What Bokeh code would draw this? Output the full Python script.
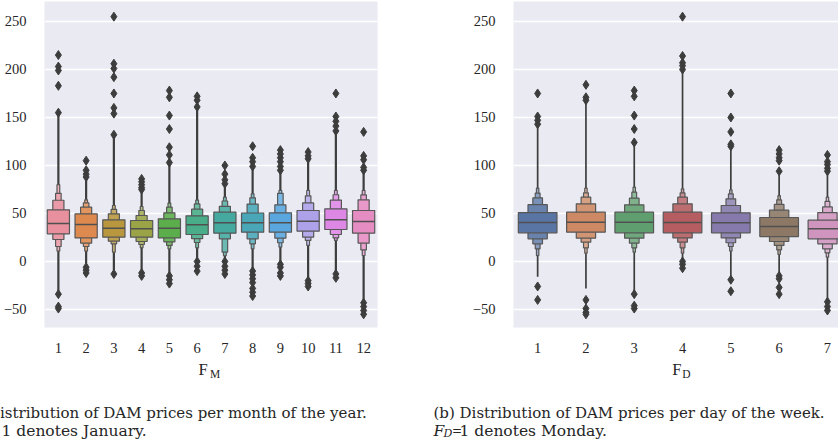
import colorsys

from bokeh.core.properties import value
from bokeh.embed import file_html
from bokeh.layouts import column, row
from bokeh.models import ColumnDataSource, FixedTicker, Range1d
from bokeh.plotting import figure
from bokeh.resources import INLINE

# ---------------- data: DAM prices, letter-value summaries ----------------
month_labels = ["1", "2", "3", "4", "5", "6", "7", "8", "9", "10", "11", "12"]
month_median = [39.6, 38.5, 34.7, 34.0, 34.7, 38.2, 40.3, 40.3, 40.3, 42.0, 43.4, 41.7]
# letter values, innermost (quartiles) first
month_lv_low = [
    [28.8, 22.9, 15.6, 10.8],
    [24.6, 19.1, 15.6, 10.8],
    [25.3, 21.2, 18.4, 9.7],
    [25.3, 20.8, 17.7, 14.2],
    [24.6, 20.5, 16.7, 13.2],
    [28.1, 23.9, 19.8, 14.2],
    [29.5, 23.6, 9.7, 6.0],
    [30.5, 23.6, 18.4, 13.2],
    [30.5, 24.3, 19.5, 15.0],
    [31.6, 25.3, 21.9, 16.7],
    [33.3, 28.1, 24.6, 21.9],
    [29.5, 19.1, 12.1, 6.2],
]
month_lv_high = [
    [53.8, 63.8, 71.0, 80.0],
    [49.6, 56.6, 61.1, 64.2],
    [43.4, 49.6, 54.2, 58.3],
    [42.7, 47.9, 53.1, 57.3],
    [44.4, 50.7, 56.6, 60.8],
    [47.6, 54.5, 60.0, 64.0],
    [51.4, 57.5, 63.0, 67.0],
    [50.5, 59.8, 66.3, 70.5],
    [50.7, 59.0, 71.0, 74.0],
    [53.1, 61.0, 68.4, 74.0],
    [54.9, 64.0, 69.5, 74.0],
    [53.1, 64.2, 69.4, 74.0],
]
month_tail_low = [-31, -2, -9, -9, -12, 2, 3, -7, 0, -17, -10, -40]
month_tail_high = [153, 85, 130, 72, 101, 158, 78, 96, 93, 104, 133, 92]
month_outliers = [
    [215, 203, 199, 183, 155, -34, -47, -49],
    [105, 95, 91, 88, -6, -9, -12],
    [255, 206, 201, 192, 175, 160, 154, 132, -13],
    [86, 83, 80, 77, 75, -12, -15],
    [178, 171, 152, 138, 119, 111, 103, -15, -19, -23],
    [172, 168, 161, 0, -5, -10],
    [100, 91, 85, 81, 0, -5, -9, -13],
    [120, 108, 104, 99, -10, -14, -18, -22, -28, -32, -36],
    [116, 112, 108, 104, 99, 95, -3, -6, -12, -15],
    [114, 110, 107, -20, -23, -26],
    [175, 151, 146, 141, 136, -13, -17],
    [135, 110, 106, 98, 95, -43, -47, -51, -55],
]

day_labels = ["1", "2", "3", "4", "5", "6", "7"]
day_median = [40.6, 41.0, 41.0, 40.6, 40.3, 36.5, 34.0]
day_lv_low = [
    [29.9, 23.6, 18.4, 13.2, 6.2],
    [30.5, 24.3, 20.1, 14.2, 8.7],
    [29.9, 24.3, 19.1, 14.2, 9.7],
    [29.9, 24.6, 20.1, 14.2, 8.7],
    [29.9, 24.6, 19.5, 15.6, 10.8],
    [26.0, 20.8, 16.7, 12.1, 7.3],
    [23.6, 18.4, 13.2, 9.0, 4.5],
]
day_lv_high = [
    [51.0, 59.2, 66.3, 71.3, 76.4],
    [51.4, 60.1, 67.0, 71.5, 76.4],
    [51.4, 59.0, 66.0, 72.2, 77.4],
    [51.4, 60.1, 67.0, 71.5, 75.7],
    [50.7, 58.3, 65.3, 70.5, 74.6],
    [45.8, 53.4, 59.4, 64.2, 68.7],
    [43.0, 51.0, 56.8, 62.6, 67.0],
]
day_tail_low = [-16, -28, -31, 2, -16, -12, -39]
day_tail_high = [140, 166, 121, 198, 118, 91, 91]
day_outliers = [
    [175, 151, 147, 143, -26, -40],
    [184, 171, 168, -40, -49, -53, -55],
    [178, 172, 152, 138, 124, -34, -46, -49],
    [255, 214, 207, 204, 200, 0, -3, -7],
    [175, 150, 135, 122, 120, -19, -31],
    [116, 112, 108, 105, 94, -15, -18, -27, -34],
    [111, 104, 101, 97, 94, -42, -47, -51],
]

y_ticks = [-50, 0, 50, 100, 150, 200, 250]

# box colours: muted husl wheel for months, muted "deep" palette for weekdays
month_colors = ["#e8909d", "#de8a4e", "#b8973f", "#9aa447", "#5cae4c", "#48ad88",
                "#45a99f", "#49a7b8", "#5aa6de", "#ada1ea", "#de88e6", "#e58cc3"]
day_palette = ["#4c72b0", "#dd8452", "#55a868", "#c44e52", "#8172b3", "#937860", "#da8bc3"]

# ---------------- styling helpers ----------------
BG = "#eaeaf2"
TEXT = "#262626"
EDGE = "#575757"
DARK = "#3d3d3d"
TICK_FONT = "Liberation Serif"
CAPTION_FONT = "DejaVu Serif"
LEVEL_WIDTHS = [0.8, 0.4, 0.2, 0.1, 0.05]
LEVEL_LIGHTEN = [0.0, 0.1, 0.2, 0.3, 0.4]


def desaturate(hexcol, prop=0.75):
    r, g, b = (int(hexcol[i:i + 2], 16) / 255 for i in (1, 3, 5))
    h, l, s = colorsys.rgb_to_hls(r, g, b)
    r, g, b = colorsys.hls_to_rgb(h, l, s * prop)
    return "#%02x%02x%02x" % tuple(round(c * 255) for c in (r, g, b))


def lighten(hexcol, frac):
    r, g, b = (int(hexcol[i:i + 2], 16) for i in (1, 3, 5))
    return "#%02x%02x%02x" % tuple(round(c + (255 - c) * frac) for c in (r, g, b))


def make_fig(width, x_end, border_left, border_right, labels):
    p = figure(width=width, height=356,
               x_range=Range1d(-0.5, x_end), y_range=Range1d(-68.75, 270.8),
               output_backend="svg", toolbar_location=None,
               min_border_left=border_left, min_border_right=border_right,
               min_border_top=1, min_border_bottom=29)
    p.background_fill_color = BG
    p.border_fill_color = "white"
    p.outline_line_color = None
    p.xgrid.visible = False
    p.ygrid.grid_line_color = "white"
    p.ygrid.grid_line_width = 1.3
    p.yaxis.ticker = FixedTicker(ticks=y_ticks)
    p.yaxis.major_label_overrides = {-50: "\u221250"}
    p.xaxis.ticker = FixedTicker(ticks=list(range(len(labels))))
    p.xaxis.major_label_overrides = {i: lab for i, lab in enumerate(labels)}
    for ax in p.axis:
        ax.axis_line_color = None
        ax.major_tick_line_color = None
        ax.minor_tick_line_color = None
        ax.major_label_text_font = TICK_FONT
        ax.major_label_text_font_size = "14.5px"
        ax.major_label_text_color = TEXT
    p.yaxis.major_label_standoff = 12
    p.xaxis.major_label_standoff = 9
    return p


def draw_boxen(p, medians, lv_low, lv_high, tail_low, tail_high, outliers, colors, tail_width):
    xs = list(range(len(medians)))
    p.segment(x0=xs, y0=tail_low, x1=xs, y1=tail_high, line_color=DARK, line_width=tail_width)

    boxes = dict(left=[], right=[], bottom=[], top=[], fill=[])
    n_levels = len(lv_low[0])
    for k in reversed(range(n_levels)):
        for i in xs:
            half = LEVEL_WIDTHS[k] / 2
            boxes["left"].append(i - half)
            boxes["right"].append(i + half)
            boxes["bottom"].append(lv_low[i][k])
            boxes["top"].append(lv_high[i][k])
            boxes["fill"].append(lighten(colors[i], LEVEL_LIGHTEN[k]))
    p.quad(left="left", right="right", bottom="bottom", top="top", fill_color="fill",
           line_color=EDGE, line_width=1.2, source=ColumnDataSource(boxes))

    half = LEVEL_WIDTHS[0] / 2
    p.segment(x0=[i - half for i in xs], x1=[i + half for i in xs], y0=medians, y1=medians,
              line_color="#505050", line_width=1.5)

    ox = [i for i in xs for _ in outliers[i]]
    oy = [v for i in xs for v in outliers[i]]
    p.scatter(ox, oy, marker="diamond", size=9, fill_color=DARK, line_color=DARK, line_width=1)


# ---------------- panel (a): month of year ----------------
pa = make_fig(420, 11.5, 41, 43, month_labels)
draw_boxen(pa, month_median, month_lv_low, month_lv_high, month_tail_low, month_tail_high,
           month_outliers, month_colors, 2.2)

# ---------------- panel (b): day of week ----------------
pb = make_fig(418, 6.229, 93, 0, day_labels)
draw_boxen(pb, day_median, day_lv_low, day_lv_high, day_tail_low, day_tail_high,
           day_outliers, [desaturate(c) for c in day_palette], 1.7)

# ---------------- axis titles and sub-captions (pixel coordinates) ----------------
cap = figure(width=838, height=87, x_range=Range1d(0, 838), y_range=Range1d(443, 356),
             x_axis_type=None, y_axis_type=None, output_backend="svg", toolbar_location=None,
             min_border=0, min_border_left=0, min_border_right=0,
             min_border_top=0, min_border_bottom=0)
cap.grid.visible = False
cap.outline_line_color = None
cap.background_fill_color = "white"
cap.border_fill_color = "white"


def put(x, y, text, size, font=CAPTION_FONT, style="normal"):
    cap.text(x=[x], y=[y], text=[text], text_font=value(font), text_font_size=value(size),
             text_font_style=style, text_color=TEXT, text_baseline="alphabetic",
             text_align="left")


put(198, 369, "F", "16.5px", font=TICK_FONT)
put(209.5, 373, "M", "11.5px", font=TICK_FONT)
put(671.7, 369, "F", "16.5px", font=TICK_FONT)
put(681.7, 373, "D", "11.5px", font=TICK_FONT)

put(-38, 412, "(a) Distribution of DAM prices per month of the year.", "15px")
put(1, 430, "1 denotes January.", "15.5px")

put(433, 412, "(b) Distribution of DAM prices per day of the week.", "15px")
put(433, 430, "F", "15.5px", style="italic")
put(443, 433, "D", "11px", style="italic")
put(451.5, 430, "=", "12px")
put(459, 430, "1 denotes Monday.", "15.5px")

layout = column(row(pa, pb, spacing=0), cap, spacing=0)
open("out.html", "w").write(file_html(layout, INLINE))
